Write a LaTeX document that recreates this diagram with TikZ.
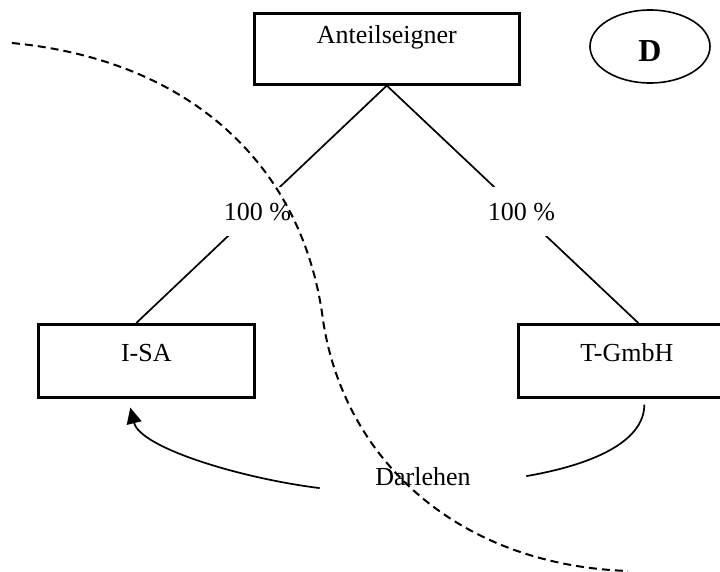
\documentclass[tikz,border=0pt]{standalone}
\usepackage{fontspec}
\setmainfont{Liberation Serif}
\usetikzlibrary{arrows.meta,shapes.geometric}
\begin{document}
\begin{tikzpicture}[x=1pt,y=-1pt,
  txt/.style={font=\fontsize{26}{31}\selectfont},
  box/.style={txt, draw, line width=2.6pt, rectangle, inner xsep=0pt, inner ysep=0pt, anchor=north west},
  conn/.style={line width=1.7pt},
  pct/.style={txt, fill=white, inner xsep=3pt, inner ysep=0pt, text height=34pt, text depth=15pt, anchor=base},
  border/.style={dash pattern=on 8pt off 5pt, line width=2pt}]
\clip (0,0) rectangle (720,572);
\node[box, minimum width=265pt, text height=30pt, text depth=41pt] (ant) at (253,12) {Anteilseigner};
\node[box, minimum width=216pt, text height=37pt, text depth=36pt] (isa) at (37,323) {I-SA};
\node[box, minimum width=217pt, text height=37pt, text depth=36pt] (tg) at (517,323) {T-GmbH};
\node[draw, ellipse, line width=1.6pt, minimum width=120pt, minimum height=73pt, inner sep=0pt, text height=30pt, font=\fontsize{32}{38}\selectfont\bfseries] (d) at (650,46.5) {D};
\node[txt, anchor=base, inner xsep=55.5pt, inner ysep=0pt] (darl) at (423,485) {Darlehen};
\draw[conn] (ant.south) -- ([xshift=-10pt]isa.north);
\draw[conn] (ant.south) -- ([xshift=11.5pt]tg.north);
\node[pct] (p1) at (257.5,221) {100 \%};
\node[pct] (p2) at (521.5,221) {100 \%};
\draw[conn, -{Triangle[length=16pt,width=15pt]}] ([yshift=-12pt]darl.west) .. controls +(-80,-10) and +(10,40) .. ([xshift=-16pt,yshift=-9pt]isa.south);
\draw[conn] ([xshift=17.5pt,yshift=-6pt]tg.south) .. controls +(0,38) and +(64,-11) .. (darl.east);
\coordinate (b1) at (12,43);
\coordinate (b2) at (323,320);
\coordinate (b3) at (628,571);
\draw[border] (b1) .. controls (190,60) and (303,165) .. (b2) .. controls (344,460) and (458,565) .. (b3);
\end{tikzpicture}
\end{document}
